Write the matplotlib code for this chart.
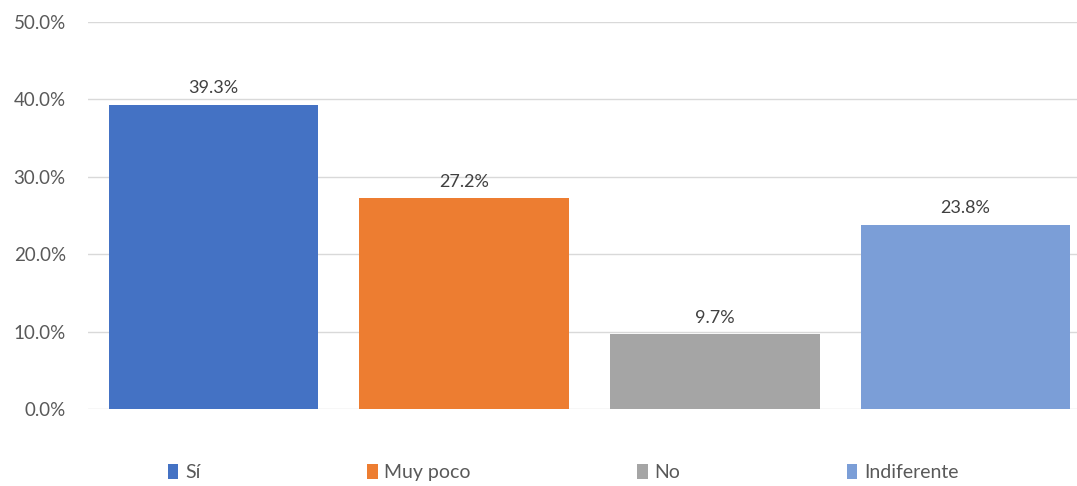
import matplotlib.pyplot as plt
from matplotlib.patches import Patch
from matplotlib.ticker import FuncFormatter

# Survey answers (percent of respondents)
categories = ['Sí', 'Muy poco', 'No', 'Indiferente']
values = [39.3, 27.2, 9.7, 23.8]
colors = ['#4472C4', '#ED7D31', '#A5A5A5', '#7B9ED7']

plt.rcParams.update({
    "font.family": ["Lato", "DejaVu Sans"],
    "font.size": 12,
    "text.color": "#595959",
    "xtick.color": "#595959",
    "ytick.color": "#595959",
})

fig = plt.figure(figsize=(10.77, 4.86), dpi=100)
# right edge of the plot runs slightly past the canvas
ax = fig.add_axes([88 / 1077, 77 / 486, 1003 / 1077, 387 / 486])

x = range(len(categories))
bars = ax.bar(x, values, width=0.835, color=colors, zorder=3)
ax.bar_label(bars, labels=[f'{v:.1f}%' for v in values], padding=6,
             fontsize=13, color='#404040')

ax.set_xlim(-0.5, len(categories) - 0.5)
ax.set_ylim(0, 50)
ax.set_yticks(range(0, 51, 10))
ax.yaxis.set_major_formatter(FuncFormatter(lambda v, _: f'{v:.1f}%'))
ax.tick_params(axis='y', length=0, pad=16, labelsize=13.5)
ax.set_xticks([])
ax.grid(axis='y', color='#D9D9D9', linewidth=1, zorder=0)
for s in ax.spines.values():
    s.set_visible(False)

handles = [Patch(facecolor=c, edgecolor='none') for c in colors]
fig.legend(handles, categories, loc='center', bbox_to_anchor=(0.523, 0.027),
           ncol=4, frameon=False, handlelength=0.55, handleheight=0.8,
           handletextpad=0.35, columnspacing=8.55, fontsize=14)

plt.savefig('out.png', dpi=100)
